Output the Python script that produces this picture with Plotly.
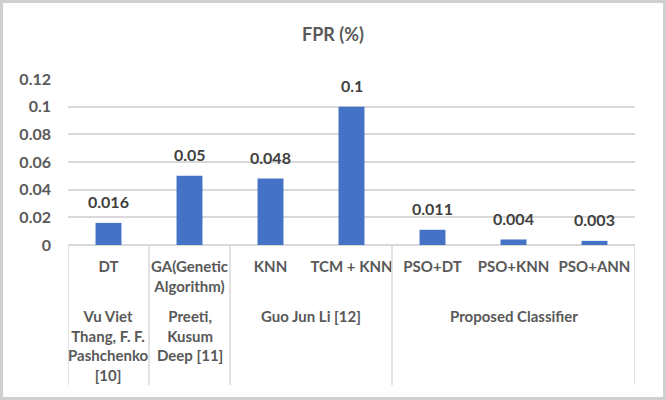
import plotly.graph_objects as go

categories = ["DT", "GA(Genetic<br>Algorithm)", "KNN", "TCM + KNN", "PSO+DT", "PSO+KNN", "PSO+ANN"]
fpr_values = [0.016, 0.05, 0.048, 0.1, 0.011, 0.004, 0.003]
value_labels = ["0.016", "0.05", "0.048", "0.1", "0.011", "0.004", "0.003"]
groups = ["Vu Viet<br>Thang, F. F.<br>Pashchenko<br>[10]", "Preeti,<br>Kusum<br>Deep [11]", "Guo Jun Li [12]", "Proposed Classifier"]
group_spans = [(0, 0), (1, 1), (2, 3), (4, 6)]
y_tick_vals = [0, 0.02, 0.04, 0.06, 0.08, 0.1, 0.12]
y_tick_text = ["0", "0.02", "0.04", "0.06", "0.08", "0.1", "0.12"]

W, H = 666, 400
ML, MR, MT, MB = 68, 31, 79, 155
PW, PH = W - ML - MR, H - MT - MB

FONT = "Lato"
GREY = "#595959"
LINE = "#d9d9d9"

x_idx = list(range(len(categories)))

fig = go.Figure()
fig.add_trace(go.Bar(x=x_idx, y=fpr_values, width=0.32, marker_color="#4472C4",
                     marker_line_width=0, hoverinfo="skip"))

annotations = []
for i, (v, t) in enumerate(zip(fpr_values, value_labels)):
    annotations.append(dict(x=i, y=v, xref="x", yref="y", text=t, showarrow=False,
                            yanchor="middle", yshift=21,
                            font=dict(family=FONT, size=16, color="#404040", weight="bold")))

for g, (a, b) in zip(groups, group_spans):
    annotations.append(dict(x=(a + b) / 2, xref="x", y=-(305 - (MT + PH)) / PH,
                            yref="paper", text=g, showarrow=False, yanchor="top",
                            font=dict(family=FONT, size=15, color=GREY, weight="bold")))

shapes = []
div_x = [-0.5] + [b + 0.5 for (_, b) in group_spans]
for xv in div_x:
    shapes.append(dict(type="line", xref="x", yref="paper", x0=xv, x1=xv, y0=0,
                       y1=-(385 - (MT + PH)) / PH, line=dict(color=LINE, width=1.5)))

# outer border
shapes.append(dict(type="rect", xref="paper", yref="paper",
                   x0=(1.5 - ML) / PW, x1=(W - 1.5 - ML) / PW,
                   y0=-(H - 1.5 - (MT + PH)) / PH, y1=((MT + PH) - 1.5) / PH,
                   line=dict(color="#d0d0d0", width=3), fillcolor="rgba(0,0,0,0)"))

fig.update_layout(
    width=W, height=H,
    margin=dict(l=ML, r=MR, t=MT, b=MB),
    paper_bgcolor="white", plot_bgcolor="white",
    showlegend=False,
    title=dict(text="FPR (%)", x=(333 - ML) / PW, xref="paper", xanchor="center",
               y=1 - 35 / H, yanchor="middle",
               font=dict(family=FONT, size=18, color=GREY, weight="bold")),
    xaxis=dict(range=[-0.5, 6.5], tickvals=x_idx, ticktext=categories, showgrid=False,
               zeroline=False, showline=False, ticks="", ticklabelstandoff=11,
               tickfont=dict(family=FONT, size=15, color=GREY, weight="bold")),
    yaxis=dict(range=[0, 0.12], tickvals=y_tick_vals, ticktext=y_tick_text,
               showgrid=True, gridcolor=LINE, gridwidth=1.5,
               zeroline=True, zerolinecolor=LINE, zerolinewidth=1.5,
               showline=False, ticks="", ticklabelstandoff=16,
               tickfont=dict(family=FONT, size=16, color=GREY, weight="bold")),
    annotations=annotations,
    shapes=shapes,
)

fig.write_html("out.html")
